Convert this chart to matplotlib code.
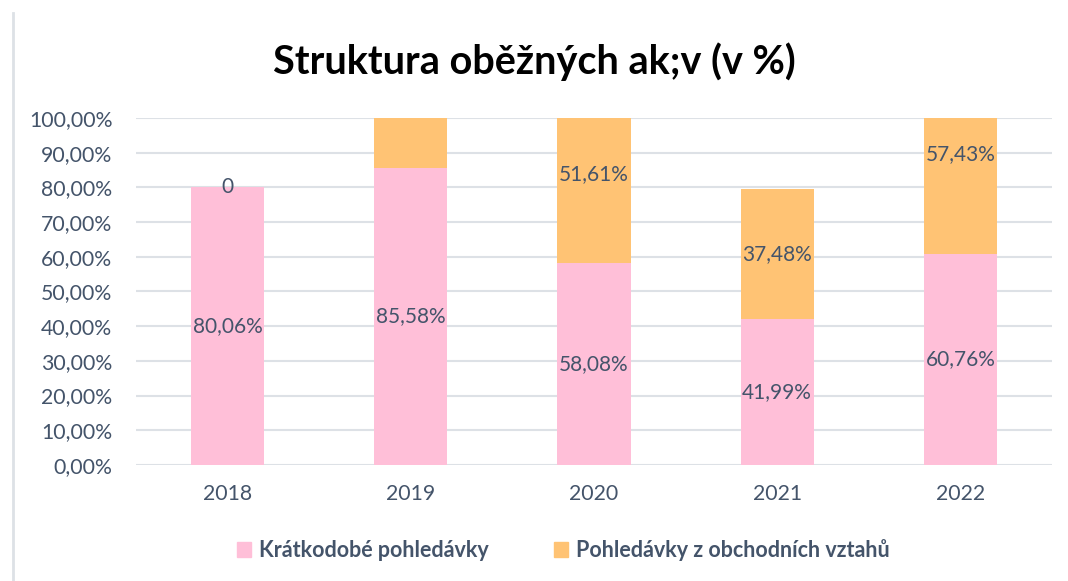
import numpy as np
import matplotlib.pyplot as plt
from matplotlib.lines import Line2D

# data
roky = ['2018', '2019', '2020', '2021', '2022']
kratkodobe = [80.06, 85.58, 58.08, 41.99, 60.76]
obchodni = [0.0, 32.0, 51.61, 37.48, 57.43]
obchodni_popisky = ['0', '', '51,61%', '37,48%', '57,43%']
kratkodobe_popisky = ['80,06%', '85,58%', '58,08%', '41,99%', '60,76%']

barva_ruzova = '#FFBFD8'
barva_oranzova = '#FFC374'
barva_textu = '#44546A'

plt.rcParams['font.family'] = ['Lato', 'DejaVu Sans']

fig = plt.figure(figsize=(10.68, 5.81), dpi=100)
ax = fig.add_axes([0.1273, 0.1997, 0.8577, 0.5973])

x = np.arange(len(roky))
ax.bar(x, kratkodobe, width=0.4, color=barva_ruzova, zorder=2)
ax.bar(x, obchodni, width=0.4, bottom=kratkodobe, color=barva_oranzova, zorder=2)

for i in range(len(roky)):
    ax.text(x[i], kratkodobe[i] / 2, kratkodobe_popisky[i], ha='center', va='center',
            fontsize=15, color=barva_textu, zorder=3)
    stred = kratkodobe[i] + obchodni[i] / 2
    if obchodni_popisky[i] and stred <= 100:
        ax.text(x[i], stred, obchodni_popisky[i], ha='center', va='center',
                fontsize=15, color=barva_textu, zorder=3)

ax.set_ylim(0, 100)
ax.set_xlim(-0.5, len(roky) - 0.5)
ax.set_yticks(np.arange(0, 101, 10))
ax.set_yticklabels([f'{v},00%' for v in range(0, 101, 10)])
ax.set_xticks(x)
ax.set_xticklabels(roky)
ax.tick_params(axis='both', length=0, labelsize=15.3, labelcolor=barva_textu)
ax.tick_params(axis='x', pad=14)
ax.tick_params(axis='y', pad=17)
ax.grid(axis='y', color='#DDE1E6', linewidth=1.5, zorder=0)
ax.set_axisbelow(True)
for s in ax.spines.values():
    s.set_visible(False)

fig.text(0.5, 0.893, 'Struktura oběžných ak;v (v %)', ha='center', va='center',
         fontsize=28.5, fontweight='bold', color='black')

# levy okraj
fig.add_artist(Line2D([0.012, 0.012], [0.0, 0.978], color='#DDE1E6', linewidth=2,
                      transform=fig.transFigure))

handles = [plt.Rectangle((0, 0), 1, 1, color=barva_ruzova),
           plt.Rectangle((0, 0), 1, 1, color=barva_oranzova)]
leg = fig.legend(handles, ['Krátkodobé pohledávky', 'Pohledávky z obchodních vztahů'],
                 loc='center', bbox_to_anchor=(0.5275, 0.0535), ncol=2, frameon=False,
                 handlelength=0.65, handleheight=0.65, columnspacing=3.0, handletextpad=0.4,
                 prop={'size': 15.5, 'weight': 'bold'})
for t in leg.get_texts():
    t.set_color(barva_textu)

fig.savefig('out.png', dpi=100)
